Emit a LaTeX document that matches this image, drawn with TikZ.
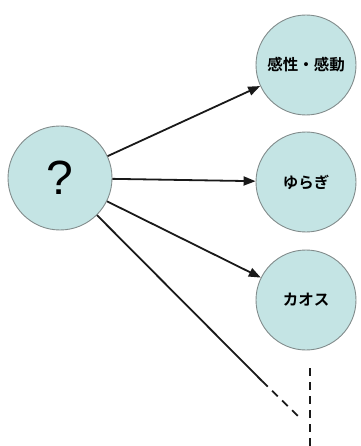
\documentclass[tikz,border=0pt]{standalone}
\usepackage{fontspec}
\setmainfont{Liberation Sans}
\newfontfamily\jpfont[BoldFont={* Bold}]{Noto Sans CJK JP}
\usetikzlibrary{arrows.meta}
\definecolor{bubble}{RGB}{196,228,228}
\definecolor{rim}{RGB}{130,140,140}
\begin{document}
\begin{tikzpicture}[x=1pt,y=-1pt,
  bubblebox/.style={circle,fill=bubble,draw=rim,line width=0.9pt,minimum size=100pt,inner sep=0pt},
  jplabel/.style={font=\jpfont\bfseries\fontsize{15.5}{15.5}\selectfont,text=black},
  link/.style={line width=1.8pt,black!90},
  arrowlink/.style={link,-{Triangle[length=12pt,width=9pt]}},
  dashlink/.style={line width=1.8pt,black!90,dash pattern=on 8pt off 6pt}]
\useasboundingbox (0,0) rectangle (360,446);
\node[bubblebox,minimum size=104pt] (q) at (60,178) {\fontsize{48}{48}\selectfont ?};
\node[bubblebox,jplabel] (a) at (306,65) {感性・感動};
\node[bubblebox,jplabel] (b) at (306,182) {ゆらぎ};
\node[bubblebox,jplabel] (c) at (306,300) {カオス};
\draw[arrowlink] (q) -- (a);
\draw[arrowlink] (q) -- (b);
\draw[arrowlink] (q) -- (c);
\coordinate (d1) at (262,381);
\coordinate (d2) at (298,416);
\draw[link] (q) -- (d1);
\draw[dashlink] (d1) -- (d2);
\coordinate (v1) at (310,368);
\coordinate (v2) at (310,446);
\draw[dashlink] (v1) -- (v2);
\end{tikzpicture}
\end{document}
